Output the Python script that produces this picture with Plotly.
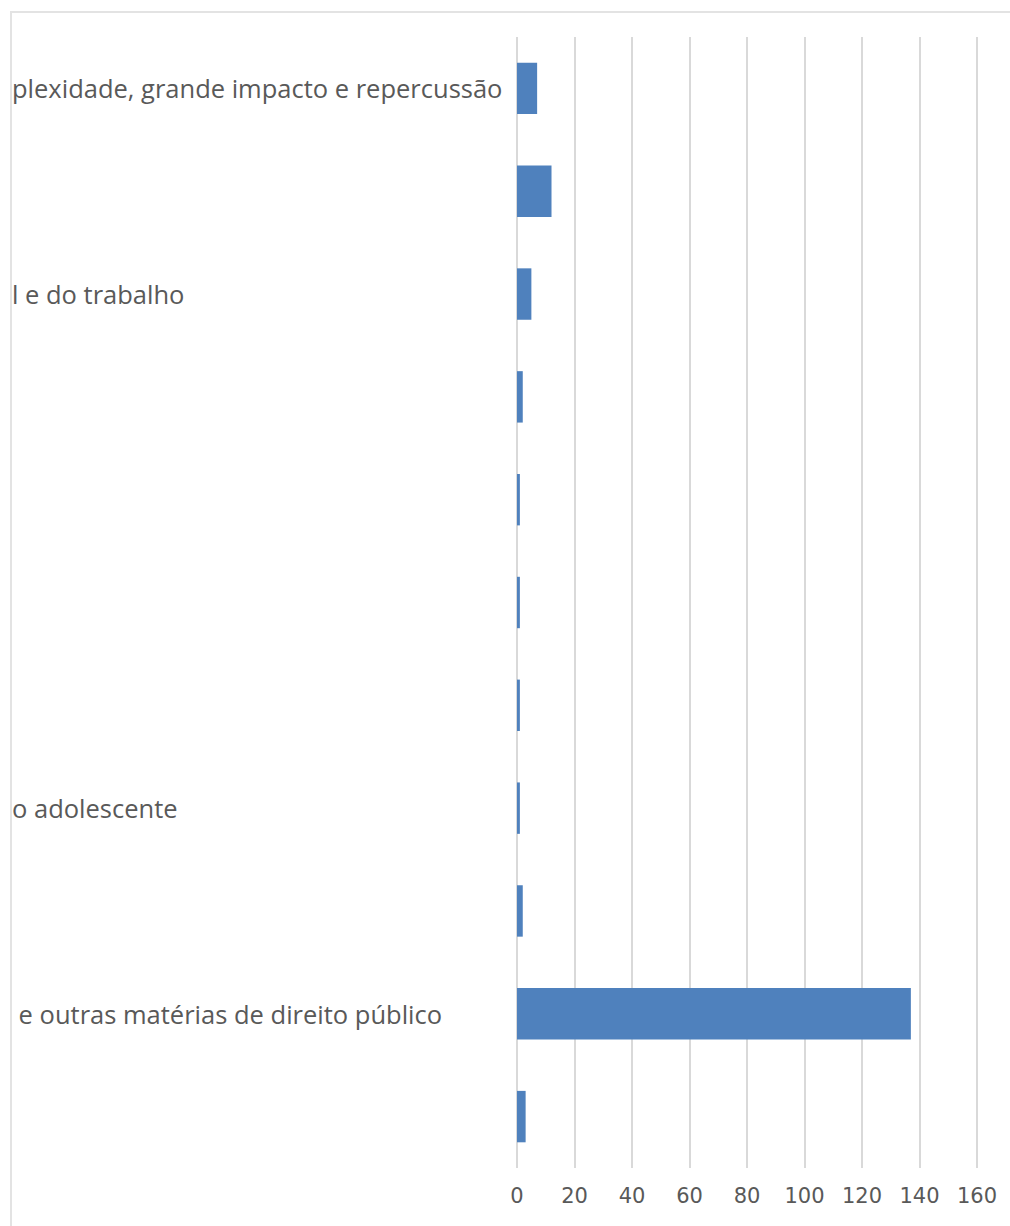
import plotly.graph_objects as go

# Category labels (top to bottom), as far as they show inside the chart frame;
# blank entries carry no visible label
categories = [
    "plexidade, grande impacto e repercussão",
    "",
    "l e do trabalho",
    "",
    "",
    "",
    "",
    "o adolescente",
    "",
    "\u00a0e outras matérias de direito público",
    "",
]
values = [7, 12, 5, 2, 1, 1, 1, 1, 2, 137, 3]
x_ticks = [0, 20, 40, 60, 80, 100, 120, 140, 160]

positions = list(range(len(categories)))

BAR = "#4f81bd"
GRID = "#d9d9d9"
TEXT = "#595959"
FRAME = "#e3e3e3"
LABEL_FONT = "Open Sans"
TICK_FONT = "DejaVu Sans"

fig = go.Figure(
    go.Bar(
        x=values,
        y=positions,
        orientation="h",
        marker=dict(color=BAR, line=dict(width=0)),
        width=0.5,
        hoverinfo="x",
    )
)

# category labels, left-aligned against the chart frame
annotations = [
    dict(
        x=0, xref="paper", xanchor="left",
        y=pos, yref="y", yanchor="middle",
        text=label, showarrow=False, borderpad=0,
        font=dict(family=LABEL_FONT, size=25.5, color=TEXT),
    )
    for pos, label in zip(positions, categories)
    if label
]

fig.update_layout(
    width=1010,
    height=1226,
    margin=dict(l=11, r=32, t=37, b=58, autoexpand=False),
    paper_bgcolor="white",
    plot_bgcolor="white",
    showlegend=False,
    font=dict(family=LABEL_FONT, color=TEXT),
    xaxis=dict(
        domain=[505 / 967, 1],
        range=[-0.35, 160.35],
        tickvals=x_ticks,
        ticktext=[str(v) for v in x_ticks],
        showgrid=True,
        gridcolor=GRID,
        gridwidth=2,
        zeroline=True,
        zerolinecolor=GRID,
        zerolinewidth=2,
        showline=False,
        ticks="",
        tickfont=dict(family=TICK_FONT, size=21, color=TEXT),
        ticklabelstandoff=13,
        fixedrange=True,
    ),
    yaxis=dict(
        range=[len(categories) - 0.5, -0.5],
        tickvals=positions,
        showticklabels=False,
        showgrid=False,
        zeroline=False,
        showline=False,
        ticks="",
        fixedrange=True,
    ),
    annotations=annotations,
    shapes=[
        # chart frame border (top and left edges)
        dict(
            type="rect", layer="above",
            xref="paper", yref="paper",
            ysizemode="pixel", yanchor=1,
            x0=0, x1=1.2, y0=-1300, y1=25,
            fillcolor="rgba(0,0,0,0)", line=dict(color=FRAME, width=2),
        ),
    ],
)

fig.write_html("out.html")
